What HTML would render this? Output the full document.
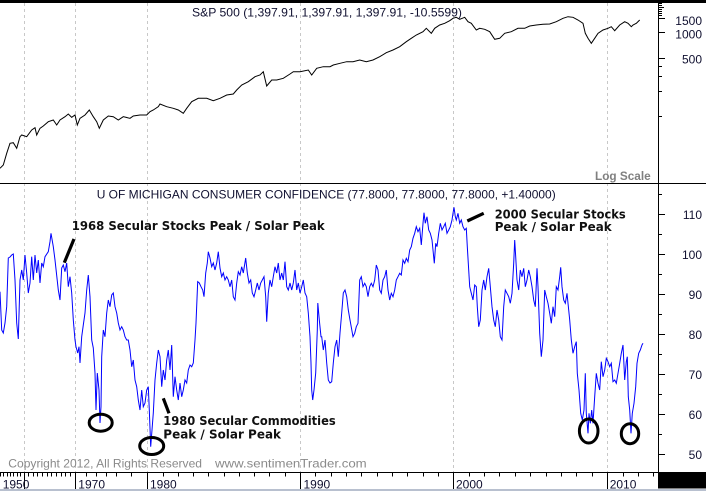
<!DOCTYPE html>
<html><head><meta charset="utf-8"><style>
html,body{margin:0;padding:0;background:#fff;}
svg{display:block}
</style></head><body>
<svg width="706" height="491" viewBox="0 0 706 491" xmlns="http://www.w3.org/2000/svg">
<rect x="0" y="0" width="706" height="491" fill="#ffffff"/>
<!-- grid lines -->
<g stroke="#c8c8c8" stroke-width="1" stroke-dasharray="3,3" shape-rendering="crispEdges">
<line x1="24.5" y1="3" x2="24.5" y2="472"/>
<line x1="75.5" y1="3" x2="75.5" y2="472"/>
<line x1="147.5" y1="3" x2="147.5" y2="472"/>
<line x1="300.5" y1="3" x2="300.5" y2="472"/>
<line x1="453.5" y1="3" x2="453.5" y2="472"/>
<line x1="607.5" y1="3" x2="607.5" y2="472"/>
</g>
<!-- frame -->
<g shape-rendering="crispEdges">
<rect x="0" y="0" width="706" height="3" fill="#000"/>
<line x1="0" y1="183.5" x2="706" y2="183.5" stroke="#000" stroke-width="1"/>
<line x1="658.5" y1="0" x2="658.5" y2="472" stroke="#000" stroke-width="1"/>
<line x1="0" y1="472.5" x2="658" y2="472.5" stroke="#000" stroke-width="1"/>
<rect x="658" y="472" width="48" height="16.5" fill="#000"/>
<rect x="0" y="489" width="706" height="2" fill="#b8c0cf"/>
</g>
<!-- right axis ticks top -->
<g stroke="#000" stroke-width="1" shape-rendering="crispEdges">
<line x1="658" y1="18.5" x2="665" y2="18.5"/>
<line x1="658" y1="32.5" x2="665" y2="32.5"/>
<line x1="658" y1="58.5" x2="665" y2="58.5"/>
<line x1="658" y1="3.5" x2="662" y2="3.5"/>
<line x1="658" y1="5.5" x2="662" y2="5.5"/>
<line x1="658" y1="7.5" x2="664" y2="7.5"/>
<line x1="658" y1="9.5" x2="662" y2="9.5"/>
<line x1="658" y1="11.5" x2="662" y2="11.5"/>
<line x1="658" y1="13.5" x2="662" y2="13.5"/>
<line x1="658" y1="15.5" x2="662" y2="15.5"/>
<line x1="658" y1="66.5" x2="662" y2="66.5"/>
<line x1="658" y1="76.5" x2="662" y2="76.5"/>
<line x1="658" y1="91.5" x2="662" y2="91.5"/>
<line x1="658" y1="116.5" x2="662" y2="116.5"/>
<!-- bottom panel ticks -->
<line x1="658" y1="214.5" x2="665" y2="214.5"/>
<line x1="658" y1="254.5" x2="665" y2="254.5"/>
<line x1="658" y1="294.5" x2="665" y2="294.5"/>
<line x1="658" y1="334.5" x2="665" y2="334.5"/>
<line x1="658" y1="374.5" x2="665" y2="374.5"/>
<line x1="658" y1="414.5" x2="665" y2="414.5"/>
<line x1="658" y1="454.5" x2="665" y2="454.5"/>
<line x1="658" y1="194.5" x2="662" y2="194.5"/>
<line x1="658" y1="234.5" x2="662" y2="234.5"/>
<line x1="658" y1="274.5" x2="662" y2="274.5"/>
<line x1="658" y1="314.5" x2="662" y2="314.5"/>
<line x1="658" y1="354.5" x2="662" y2="354.5"/>
<line x1="658" y1="394.5" x2="662" y2="394.5"/>
<line x1="658" y1="434.5" x2="662" y2="434.5"/>
<!-- x axis major ticks -->
<line x1="24.5" y1="472" x2="24.5" y2="489"/>
<line x1="75.5" y1="472" x2="75.5" y2="489"/>
<line x1="147.5" y1="472" x2="147.5" y2="489"/>
<line x1="300.5" y1="472" x2="300.5" y2="489"/>
<line x1="453.5" y1="472" x2="453.5" y2="489"/>
<line x1="607.5" y1="472" x2="607.5" y2="489"/>
</g>
<!-- x axis minor ticks -->
<path stroke="#000" stroke-width="1" shape-rendering="crispEdges" fill="none" d="
M0.5 472v4.5 M3.5 472v4.5 M7.5 472v4.5 M10.5 472v4.5 M13.5 472v4.5 M17.5 472v4.5 M20.5 472v4.5
M28.5 472v4.5 M33.5 472v4.5 M37.5 472v4.5 M42.5 472v4.5 M47.5 472v4.5 M51.5 472v4.5 M56.5 472v4.5 M61.5 472v4.5 M65.5 472v4.5 M70.5 472v4.5
M86.5 472v4.5 M96.5 472v4.5 M106.5 472v4.5 M116.5 472v4.5 M131.5 472v4.5
M163.5 472v4.5 M178.5 472v4.5 M193.5 472v4.5 M208.5 472v4.5 M224.5 472v4.5 M239.5 472v4.5 M254.5 472v4.5 M269.5 472v4.5 M285.5 472v4.5
M315.5 472v4.5 M331.5 472v4.5 M346.5 472v4.5 M361.5 472v4.5 M377.5 472v4.5 M392.5 472v4.5 M407.5 472v4.5 M423.5 472v4.5 M438.5 472v4.5
M469.5 472v4.5 M484.5 472v4.5 M499.5 472v4.5 M515.5 472v4.5 M530.5 472v4.5 M546.5 472v4.5 M561.5 472v4.5 M576.5 472v4.5 M592.5 472v4.5
M623.5 472v4.5 M638.5 472v4.5 M653.5 472v4.5"/>

<!-- S&P 500 line -->
<polyline fill="none" stroke="#000" stroke-width="1" points="
0,168.3 3.3,165 6.7,153.3 10,143.3 13.3,142.7 16.7,148.3 20,136.7 21.7,135 26.7,136.7 31.7,130 35,127.7 36.7,135 40,128.3 43.3,126 48.3,121.7 53.3,120 56.7,125 60,120 65,116.7 68.3,114 71.7,117.3 75,115 77.3,125 80,118.3 85,115 89.3,110 93.3,116.7 96.7,121.7 99.3,128.3 103.3,120 108.3,116 113.3,116.7 118.3,120 123.3,116.7 130,118.3 133.3,116 140,115 146.7,115 150,111.7 153.3,110 158.3,106.7 160,104 166.7,106.7 173.3,108.3 178.3,110 183.3,113.3 186.7,108.3 191.7,101.7 198.3,98.3 206.7,98.3 213.3,100.7 220,98.3 226.7,95 233.3,94 236.7,90 241.7,85 248.3,81.7 255,76.7 260,75 263.3,71.7 266.7,86 271.7,80 276.7,80 283.3,78.3 290,74 293.3,71.7 300,71.7 308.3,70 311.7,75 316.7,68.3 323.3,66.7 330,66.7 333.3,65 340,63.3 346.7,61.7 353,61.7 359.7,60 366.3,61.7 373,60 379.7,56.7 386.3,52.7 393,50 399.7,46.7 406.3,41.7 411.3,38.3 416.3,35 423,31.7 426.3,28.3 431.3,33.3 434.7,28.3 439.7,25 444.7,23.3 449.7,20.7 453,18.3 456.3,17.3 459.7,19.3 464.7,17.3 468,21.7 471.3,23.3 476.3,30 479.7,28.3 484.7,29.3 489.7,31.7 494.7,39.3 499.7,38.3 504.7,33.3 511.3,31.7 518,28.3 524.7,28.3 529.7,26 536.3,25 543,24.3 549.7,24 556.3,21.7 563,18.3 568,16.7 573,17.3 578,20 583,23.3 585.3,33.3 588,38.3 591.3,43.3 594.7,38.3 598,33.3 603,30 608,28.3 611.3,26.7 614.7,30.7 619.7,25 624.7,21.7 628,23.3 631.3,26.7 633,25 636.3,23.3 639.7,20"/>

<!-- UMich line -->
<polyline fill="none" stroke="#0000ff" stroke-width="1" points="
0,291.7 1.7,330 3.3,333 5,323 6.7,306.7 8.3,258 10,257 11.7,255 13.3,254 15,280 16.7,323 18.3,339 20,280 21.7,270 23.3,280 25,255 26.7,273 28.3,293 30,283 31.7,256.7 33.3,280 35,255 36.7,273 38.3,260 40,283 41.7,263 43.3,266.7 45,256.7 48.3,251.7 50,241.7 51,233.3 53.3,246.7 55,260 58.3,290 60,300 61.7,268 63.3,265 65,271.7 66.7,263 68.3,286.7 70,276.7 71.7,293 73.3,320 75,340 76,346.7 77.7,353 79,346.7 80,363 81.7,336.7 83.3,325 85,313 86.7,290 88.3,275 90,296.7 91.7,340 93.3,348 95,373 96,410 97.3,373 99,390 100,423 101,406.7 101.7,356.7 103.3,330 105,336.7 106.7,313 108.3,300 110,306.7 111.7,295 113.3,293 115,306.7 116.7,313 118.3,323 120,330 121.7,326.7 123.3,330 125,336.7 126.7,340 128.3,340 130,350 131.7,366.7 133.3,360 135,380 136.7,386.7 138.3,400 140,410 141.7,390 143.3,406.7 145,403 146.7,390 148.3,386.7 149.3,410 150.7,446.7 152,430 153.3,413 155,380 156.7,363 158.3,350 160,356.7 161.7,386.7 163.3,370 165,380 166.7,360 168.3,350 170,370 171.7,345 173.3,396.7 175,376.7 176.7,390 178.3,400 180,383 181.7,396.7 183.3,390 185,380 186.7,383 188.3,370 190,365 191.7,366.7 193.3,363 195,340 196,323 197.7,281.7 199.3,283 201,286.7 202.7,290 204,296.7 205.7,273 207.3,263 208.3,251.7 210,258 211.7,266.7 213.3,263 215,270 216.7,263 218.3,251.7 220,268 221.7,276.7 223.3,273 225,280 226.7,276.7 228.3,280 230,286.7 231.7,280 233.3,296.7 235,300 236.7,283 238.3,271.7 240,275 241.7,266.7 243.3,273 245.7,258 247.3,273 249,283 250.7,280 252.3,293 254,296.7 255.7,290 257.3,283 259,290 260.7,283 262.3,280 264,276.7 265.7,296.7 266.7,321.7 268.3,293 270,280 271.7,286.7 273.3,276.7 275,266.7 276.7,273 278.3,263 280,280 281.7,273 283.3,280 285,261.7 286.7,286.7 288.3,290 290,283 291.7,290 293.3,283 295,270 296.7,290 298.3,283 300,293 301.7,286.7 303.3,280 305,293 306.7,296.7 308.3,313 310,336.7 311,363 311.7,390 312.7,400 314,390 315.7,373 317.3,330 317.8,303 319.3,320 321,336.7 321.7,336.7 323.3,350 325,340 326.7,363 328.3,380 330,383 331.7,381.7 333.3,363 335,346.7 336.7,340 338.3,356.7 340,333 341.7,313 343.3,293 345,290 346.7,296.7 348.3,310 350,320 353,336.7 354.7,333.3 356.3,326.7 358,323.3 359.7,280 361.3,276.7 363,286.7 364.7,283.3 366.3,286.7 368,296.7 369.7,286.7 371.3,283.3 373,286.7 374.7,280 376.3,265 378,270 379.7,290 381.3,293.3 383,280 384.7,276.7 386.3,270 388,290 389.7,300 391.3,293.3 393,296.7 394.7,290 396.3,280 398,276.7 399.7,273.3 401.3,275 403,260 404.7,263.3 406.3,258.3 408,261.7 409.7,250 411.3,246.7 413,238.3 414.7,233.3 416.3,226.7 418,231.7 419.7,228.3 421.3,245 423,223.3 424,212.7 425.3,223.3 427,216.7 428.7,230 430.3,233.3 432,240 433,250 434.3,263.3 435.7,243.3 437,246.7 438.7,233.3 440.3,223.3 442,230 443.7,226.7 445.3,223.3 447,233.3 448.7,230 450.3,226.7 452,220 453,213.3 454,207.3 455.3,216.7 456.3,220 458,213.3 459.7,223.3 461.3,220 463,226.7 464.7,230 466.3,228.3 467.3,246.7 468.7,270 469.7,286.7 471.3,293.3 473,300 474.7,285 476.3,286.7 477.3,306.7 478.7,326.7 480.3,320 482,290 483.7,280 485.3,290 487,276.7 488.7,268.3 490.3,286.7 492,306.7 493.7,320 495.3,326.7 497,310 498.7,320 500.3,336.7 502,340 503.7,306.7 505.3,290 507,293.3 508.7,296.7 510.3,303.3 512,293.3 513.7,263.3 514.7,240 515.7,256.7 517,280 518.7,290 520.3,270 522,276.7 523.7,268.3 525.3,286.7 527,280 528.7,270 530.3,276.7 532,286.7 533.7,300 535.3,306.7 537,268.3 538,286.7 539.7,333.3 541.3,356.7 543,340 544.7,290 546.3,296.7 548,303.3 549.7,313.3 551.3,323.3 553,306.7 554.7,316.7 556.3,286.7 558,290 559.7,276.7 560.7,267.3 562,286.7 563.7,300 565.3,303.3 567,293.3 568.7,310 569.7,320 571.3,340 573,353.3 574.7,346.7 576.3,341.7 577.3,373.3 579,390 580.7,413.3 582.3,420 584,410 585.3,373.3 586.3,413.3 588,433.3 589,413.3 590.3,423.3 591.7,410 593,423.3 594.7,396.7 596.3,373.3 598,383.3 599.7,390 601.3,361.7 603,376.7 604.7,370 606.3,358.3 608,361.7 609.7,366.7 611.3,363.3 613,381.7 614.7,380 616.3,383.3 618,373.3 619.7,363.3 621.3,353.3 623,345 624.7,380 626.3,361.7 627.3,356.7 628.3,396.7 629.7,410 631,433.3 632.3,413.3 634,403.3 635.7,386.7 637,363.3 638.7,353.3 640.3,350 642,345 643,343.3"/>

<!-- annotations: pointers & ellipses -->
<g stroke="#000" fill="none">
<line x1="64.3" y1="262.7" x2="74" y2="239" stroke-width="3.2"/>
<line x1="467.3" y1="221" x2="483.7" y2="213.3" stroke-width="3.2"/>
<line x1="163.3" y1="398.3" x2="169" y2="413.3" stroke-width="3.2"/>
<ellipse cx="100.7" cy="422.7" rx="11.5" ry="8.5" stroke-width="3"/>
<ellipse cx="151.7" cy="446" rx="12" ry="8.5" stroke-width="3"/>
<ellipse cx="588.7" cy="431" rx="9.3" ry="12" stroke-width="3"/>
<ellipse cx="630" cy="433.7" rx="8.7" ry="10" stroke-width="3"/>
</g>

<!-- texts -->
<g font-family="'Liberation Sans', Arial, sans-serif" font-size="12" fill="#101030">
<text x="192" y="16.7" textLength="270" lengthAdjust="spacingAndGlyphs">S&amp;P 500 (1,397.91, 1,397.91, 1,397.91, -10.5599)</text>
<text x="96.7" y="198.3" textLength="459" lengthAdjust="spacingAndGlyphs">U OF MICHIGAN CONSUMER CONFIDENCE (77.8000, 77.8000, 77.8000, +1.40000)</text>
<g text-anchor="end">
<text x="702" y="25">1500</text>
<text x="702" y="38.6">1000</text>
<text x="702" y="63.6">500</text>
<text x="702" y="218.8">110</text>
<text x="702" y="258.8">100</text>
<text x="702" y="298.8">90</text>
<text x="702" y="338.8">80</text>
<text x="702" y="378.8">70</text>
<text x="702" y="418.8">60</text>
<text x="702" y="458.8">50</text>
</g>
<text x="2.7" y="488.5">1950</text>
<text x="78.3" y="488.5">1970</text>
<text x="150" y="488.5">1980</text>
<text x="303.5" y="488.5">1990</text>
<text x="456" y="488.5">2000</text>
<text x="609.7" y="488.5">2010</text>
</g>
<text x="595" y="180" font-family="'Liberation Sans', Arial, sans-serif" font-size="12" font-weight="bold" fill="#808080" textLength="55.7" lengthAdjust="spacingAndGlyphs">Log Scale</text>
<g font-family="'Liberation Sans', Arial, sans-serif" font-size="12" fill="#8a8a8a">
<text x="8.3" y="467.3" textLength="193.7" lengthAdjust="spacingAndGlyphs">Copyright 2012, All Rights Reserved</text>
<text x="215" y="467.3" textLength="151.7" lengthAdjust="spacingAndGlyphs">www.sentimenTrader.com</text>
</g>
<g font-family="'DejaVu Sans', Verdana, sans-serif" font-size="12" font-weight="bold" fill="#101010">
<text x="71.7" y="230" textLength="253" lengthAdjust="spacingAndGlyphs">1968 Secular Stocks Peak / Solar Peak</text>
<text x="494.7" y="218.3" textLength="131" lengthAdjust="spacingAndGlyphs">2000 Secular Stocks</text>
<text x="494.7" y="231" textLength="117" lengthAdjust="spacingAndGlyphs">Peak / Solar Peak</text>
<text x="163.3" y="425" textLength="172.4" lengthAdjust="spacingAndGlyphs">1980 Secular Commodities</text>
<text x="163.3" y="438.3" textLength="117.7" lengthAdjust="spacingAndGlyphs">Peak / Solar Peak</text>
</g>
</svg>
</body></html>
